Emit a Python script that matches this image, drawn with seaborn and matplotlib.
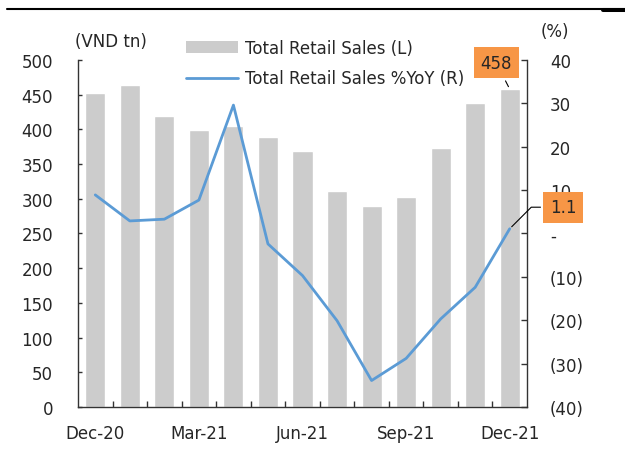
import numpy as np
import pandas as pd
import matplotlib
matplotlib.use('Agg')
import matplotlib.pyplot as plt
import seaborn as sns
from matplotlib.patches import Patch
from matplotlib.lines import Line2D
from matplotlib.ticker import FixedLocator, FuncFormatter

# ---- data ----
months = ['Dec-20', 'Jan-21', 'Feb-21', 'Mar-21', 'Apr-21', 'May-21', 'Jun-21',
          'Jul-21', 'Aug-21', 'Sep-21', 'Oct-21', 'Nov-21', 'Dec-21']
sales = [452, 464, 420, 399, 405, 389, 369, 311, 289, 302, 373, 438, 458]   # VND tn
yoy = [8.9, 2.9, 3.3, 7.7, 29.6, -2.4, -9.7, -20.1, -33.9, -28.8, -19.7, -12.4, 1.1]  # %
shown_labels = ['Dec-20', 'Mar-21', 'Jun-21', 'Sep-21', 'Dec-21']
left_ticks = list(range(0, 501, 50))
right_ticks = list(range(-40, 41, 10))

BAR = '#CCCCCC'
LINE = '#5B9BD5'
ORANGE = '#F79646'
SPINE = '#333333'
FS = 12

sns.set_style('white')
plt.rcParams['font.family'] = ['DejaVu Sans']
plt.rcParams['font.size'] = FS

fig = plt.figure(figsize=(6.25, 4.52), dpi=100)
ax = fig.add_axes([78 / 625, 1 - 408 / 452, 449 / 625, 347 / 452])

df = pd.DataFrame({'month': months, 'sales': sales})
sns.barplot(data=df, x='month', y='sales', color=BAR, saturation=1,
            width=0.58, ax=ax)
ax.set_xlim(-0.5, len(months) - 0.5)
ax.set_ylim(0, 500)
ax.set_yticks(left_ticks)
ax.set_xlabel('')
ax.set_ylabel('')

# category boundary ticks + labels every quarter
ax.xaxis.set_major_locator(FixedLocator(np.arange(0.5, len(months) - 1, 1)))
ax.xaxis.set_major_formatter(FuncFormatter(lambda v, p: ''))
ax.xaxis.set_minor_locator(FixedLocator([months.index(m) for m in shown_labels]))
ax.set_xticklabels(shown_labels, minor=True)
ax.tick_params(axis='x', which='major', direction='in', length=4, width=1, color=SPINE, bottom=True)
ax.tick_params(axis='x', which='minor', length=0, pad=12, bottom=True, labelsize=FS)
ax.tick_params(axis='y', direction='in', length=3, width=1, color=SPINE, pad=18, left=True,
               labelsize=FS)

for side in ['top', 'right']:
    ax.spines[side].set_visible(False)
for side in ['left', 'bottom']:
    ax.spines[side].set_color(SPINE)
    ax.spines[side].set_linewidth(1)

# right axis: %YoY
ax2 = ax.twinx()
sns.lineplot(x=np.arange(len(months)), y=yoy, color=LINE, linewidth=2, ax=ax2)
ax2.set_ylim(-40, 40)
ax2.set_yticks(right_ticks)
ax2.yaxis.set_major_formatter(FuncFormatter(
    lambda v, p: '-' if v == 0 else (f'({abs(v):.0f})' if v < 0 else f'{v:.0f}')))
ax2.tick_params(axis='y', direction='in', length=4, width=1, color=SPINE, pad=16.5, right=True,
                labelsize=FS)
for side in ['top', 'left', 'bottom']:
    ax2.spines[side].set_visible(False)
ax2.spines['right'].set_color(SPINE)
ax2.spines['right'].set_linewidth(1)

# callouts
ax.annotate(f'{sales[-1]:.0f}', xy=(len(months) - 1, sales[-1]), xytext=(-9.7, 19),
            textcoords='offset points', ha='center', va='center', fontsize=FS,
            bbox=dict(boxstyle='square,pad=0.4', fc=ORANGE, ec='none'),
            arrowprops=dict(arrowstyle='-', color='black', lw=0.8))
ax2.annotate(f'{yoy[-1]:.1f}', xy=(len(months) - 1, yoy[-1]), xytext=(38.5, 15.5),
             textcoords='offset points', ha='center', va='center', fontsize=FS,
             bbox=dict(boxstyle='square,pad=0.4', fc=ORANGE, ec='none'),
             arrowprops=dict(arrowstyle='-', color='black', lw=0.8,
                             connectionstyle='angle,angleA=0,angleB=45,rad=0'),
             zorder=5)

# unit labels
fig.text(75 / 625, 1 - 42 / 452, '(VND tn)', ha='left', va='center', fontsize=FS)
fig.text(541 / 625, 1 - 32 / 452, '(%)', ha='left', va='center', fontsize=FS)

# legend
handles = [Patch(facecolor=BAR, edgecolor='none'),
           Line2D([0], [0], color=LINE, lw=2)]
labels = ['Total Retail Sales (L)', 'Total Retail Sales %YoY (R)']
fig.legend(handles, labels, loc='upper left', bbox_to_anchor=(186 / 625, 1 - 40 / 452),
           frameon=False, borderpad=0, borderaxespad=0, handlelength=3.1,
           handletextpad=0.42, labelspacing=0.75, fontsize=FS)

# top rule
fig.add_artist(Line2D([7 / 625, 1], [1 - 10.3 / 452] * 2, color='black', lw=1.5))
fig.add_artist(Line2D([603 / 625, 1], [1 - 11.3 / 452] * 2, color='black', lw=2.9))

fig.savefig('out.png', dpi=100)
